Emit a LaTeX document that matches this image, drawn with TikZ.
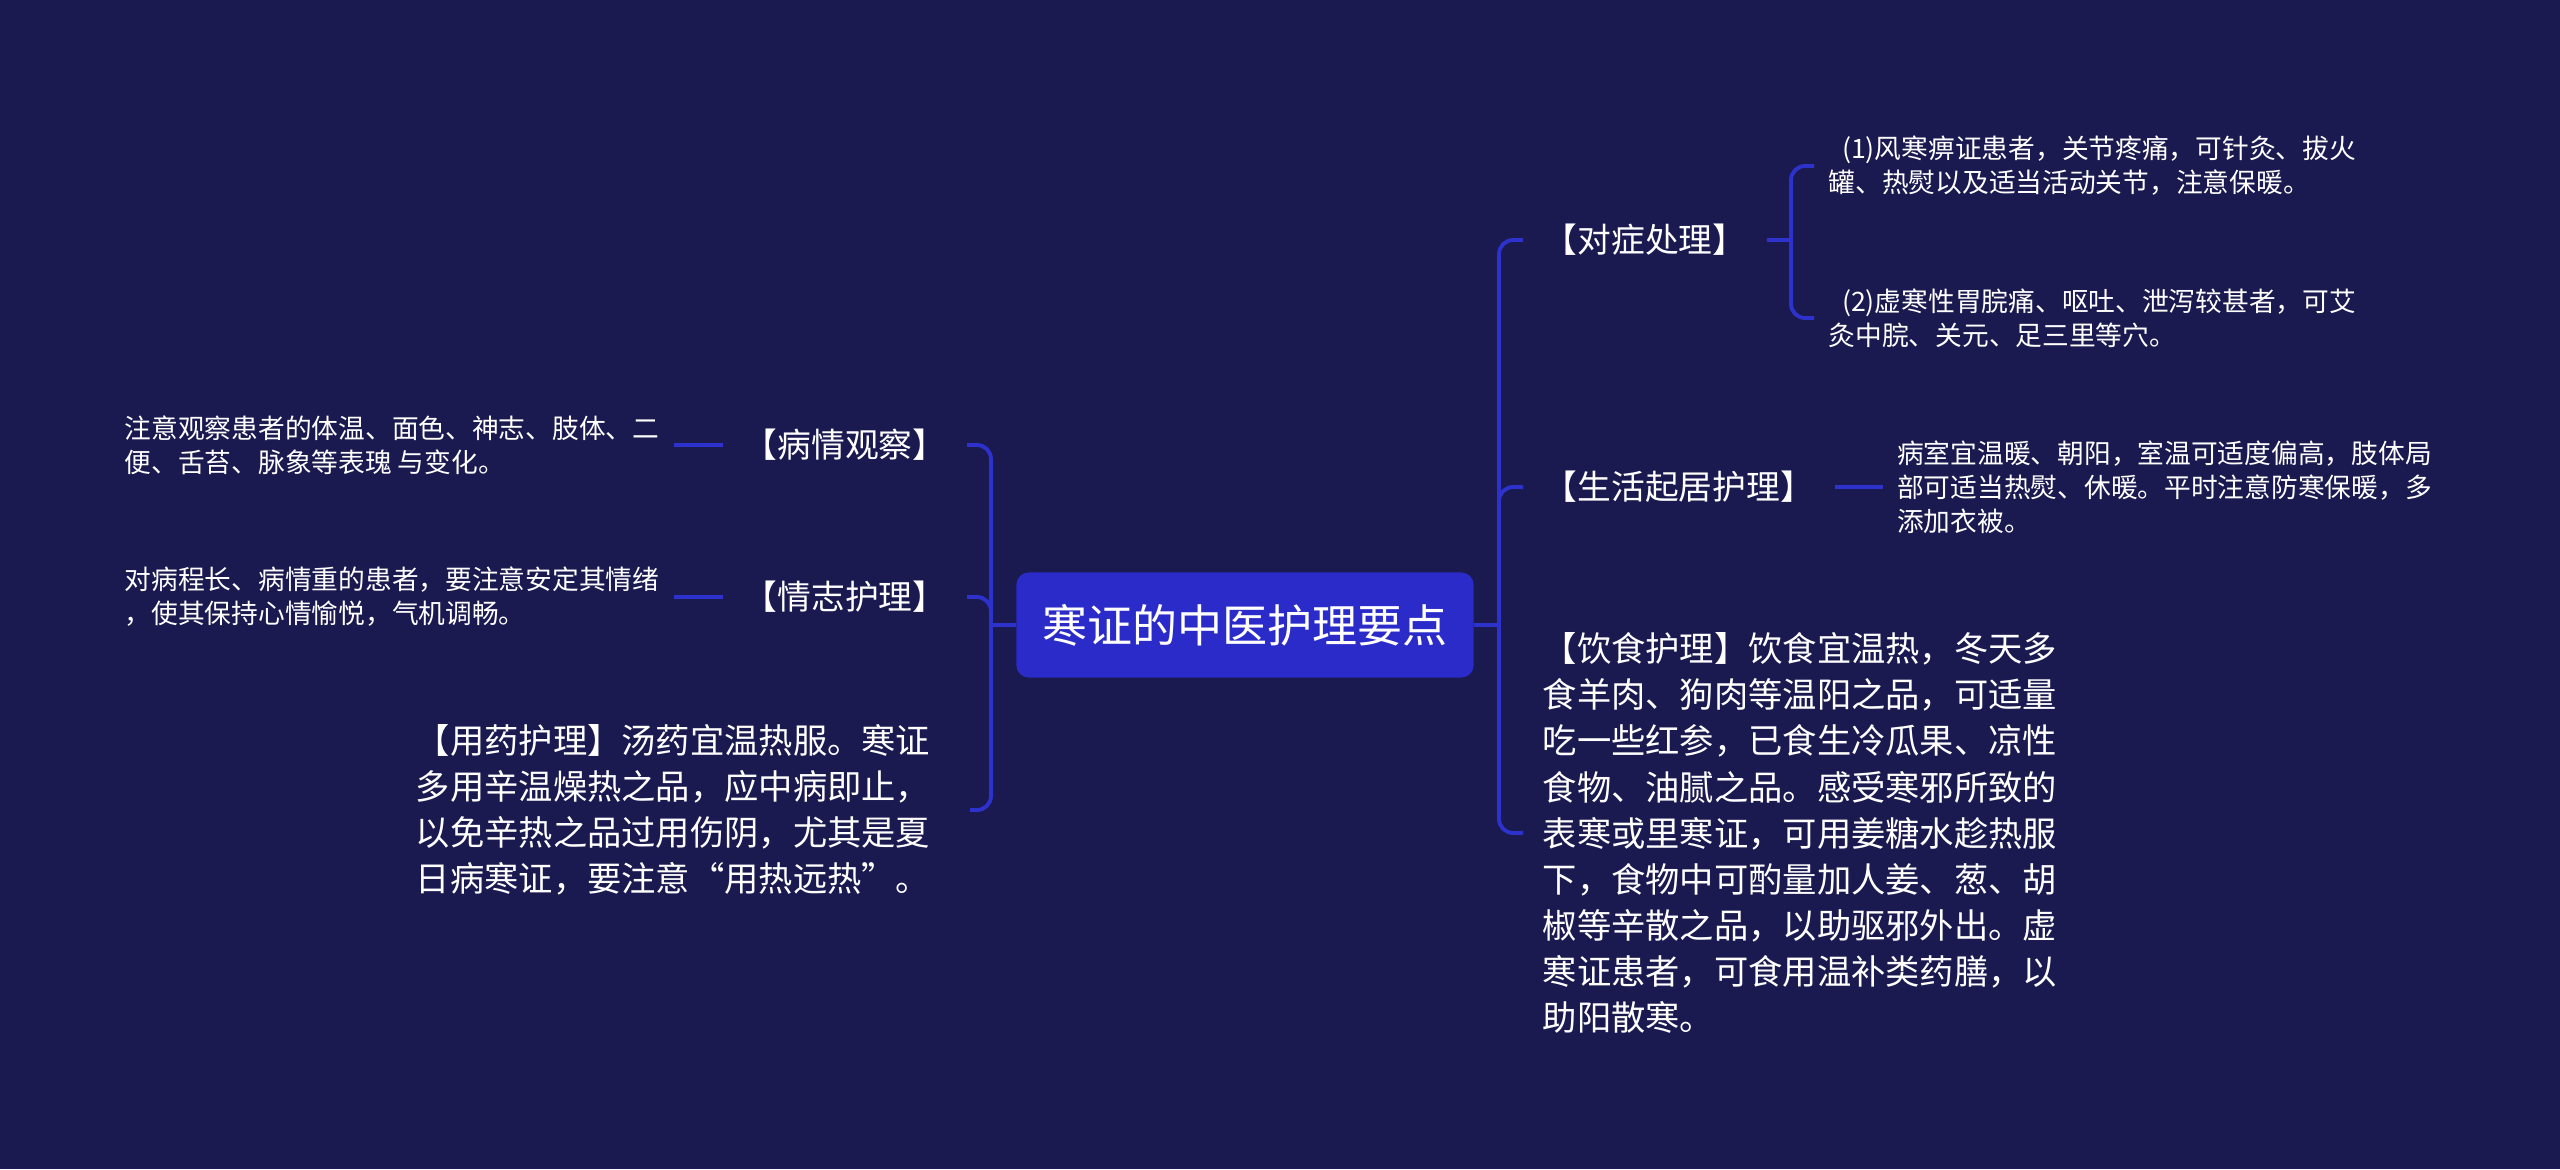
\documentclass[tikz,border=0pt]{standalone}
\usepackage{fontspec}
\setmainfont{Noto Sans CJK SC}
\usepackage{xcolor}
\usepackage{tikz}
\usetikzlibrary{positioning, calc}

\definecolor{bgnavy}{RGB}{26,25,80}
\definecolor{rootblue}{RGB}{42,43,200}
\definecolor{linkblue}{RGB}{46,50,205}

\begin{document}
\begin{tikzpicture}[x=0.01cm, y=-0.01cm,
  root/.style  = {fill=rootblue, text=white, rounded corners=3.5pt,
                  minimum width=4.57cm, minimum height=1.05cm,
                  font=\fontsize{12.8pt}{15pt}\selectfont},
  topic/.style = {text=white, inner xsep=0.2cm,
                  font=\fontsize{9.6pt}{12pt}\selectfont},
  para/.style  = {text=white, align=left, inner xsep=0.19cm,
                  font=\fontsize{9.75pt}{13.1pt}\selectfont},
  note/.style  = {text=white, align=left, inner xsep=0.14cm,
                  font=\fontsize{7.6pt}{9.7pt}\selectfont},
  link/.style  = {draw=linkblue, line width=1.1pt, rounded corners=4pt}
]
  %% background
  \fill[bgnavy] (0,0) rectangle (2560,1169);

  \node[root] (root) at (1245,625) {寒证的中医护理要点};
  \coordinate (rt) at (1499,625);
  \coordinate (lt) at (991,625);

  %% right side
  \node[topic, anchor=west] (dz) at (1523,240) {【对症处理】};
  \node[note, anchor=west] (dz1) at (1814,166)
    {\hspace*{0.5em}(1)风寒痹证患者，关节疼痛，可针灸、拔火\\罐、热熨以及适当活动关节，注意保暖。};
  \node[note, anchor=west] (dz2) at (1814,318)
    {\hspace*{0.5em}(2)虚寒性胃脘痛、呕吐、泄泻较甚者，可艾\\灸中脘、关元、足三里等穴。};
  \node[topic, anchor=west] (sh) at (1523,487) {【生活起居护理】};
  \node[note, right=0.48cm of sh] (shd)
    {病室宜温暖、朝阳，室温可适度偏高，肢体局\\部可适当热熨、休暖。平时注意防寒保暖，多\\添加衣被。};
  \node[para, anchor=west] (ys) at (1523,833)
    {【饮食护理】饮食宜温热，冬天多\\食羊肉、狗肉等温阳之品，可适量\\吃一些红参，已食生冷瓜果、凉性\\食物、油腻之品。感受寒邪所致的\\表寒或里寒证，可用姜糖水趁热服\\下，食物中可酌量加人姜、葱、胡\\椒等辛散之品，以助驱邪外出。虚\\寒证患者，可食用温补类药膳，以\\助阳散寒。};

  %% left side
  \node[topic, anchor=east] (bq) at (967,445) {【病情观察】};
  \node[note, left=0.49cm of bq] (bqd)
    {注意观察患者的体温、面色、神志、肢体、二\\便、舌苔、脉象等表瑰 与变化。};
  \node[topic, anchor=east] (qz) at (967,597) {【情志护理】};
  \node[note, left=0.49cm of qz] (qzd)
    {对病程长、病情重的患者，要注意安定其情绪\\，使其保持心情愉悦，气机调畅。};
  \node[para, anchor=east, inner xsep=0.39cm] (yy) at (970,810)
    {【用药护理】汤药宜温热服。寒证\\多用辛温燥热之品，应中病即止，\\以免辛热之品过用伤阴，尤其是夏\\日病寒证，要注意“用热远热”。};

  %% connectors
  \draw[link] (root.east) -- (rt);
  \draw[link] (rt) |- (dz.west);
  \draw[link] (rt) |- (sh.west);
  \draw[link] (rt) |- (ys.west);
  \coordinate (dzj) at ($(dz.east)+(24,0)$);
  \draw[link] (dz.east) -- (dzj);
  \draw[link] (dzj) |- (dz1.west);
  \draw[link] (dzj) |- (dz2.west);
  \draw[link] (sh.east) -- (shd.west);

  \draw[link] (root.west) -- (lt);
  \draw[link] (lt) |- (bq.east);
  \draw[link] (lt) |- (qz.east);
  \draw[link] (lt) |- (yy.east);
  \draw[link] (bq.west) -- (bqd.east);
  \draw[link] (qz.west) -- (qzd.east);
\end{tikzpicture}
\end{document}
